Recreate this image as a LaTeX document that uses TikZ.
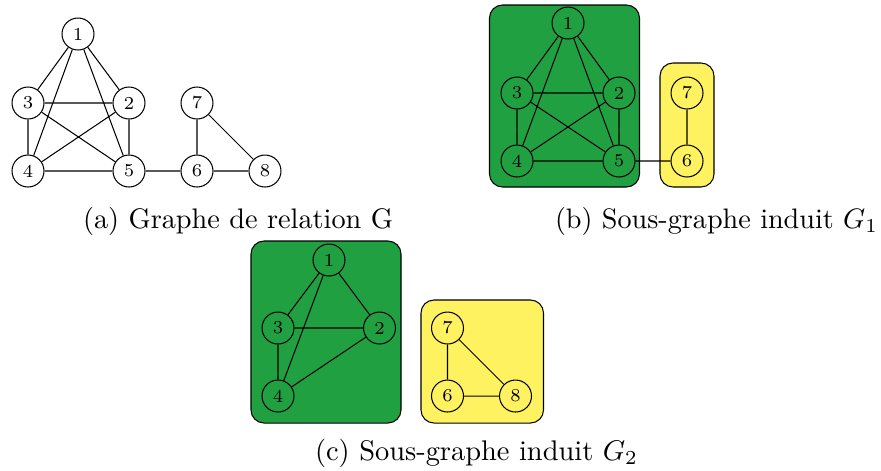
\documentclass[tikz,border=0pt]{standalone}
\usepackage{graphicx}
\definecolor{grn}{RGB}{33,160,66}
\definecolor{ylw}{RGB}{255,242,96}
\begin{document}
\begin{tikzpicture}[x=0.3846pt,y=-0.3846pt,
  vtx/.style={circle,draw,line width=0.4pt,minimum size=12.3pt,inner sep=0pt,font=\fontsize{7}{8}\selectfont},
  edge/.style={line width=0.4pt},
  grpbox/.style={draw,line width=0.4pt,rounded corners=5pt},
  captxt/.style={anchor=base,inner sep=0pt,font=\normalsize}]
\useasboundingbox (0,0) rectangle (881,470);
% (a)
\node[vtx] (a1) at (78,34) {1};
\node[vtx] (a3) at (28,103) {3};
\node[vtx] (a2) at (129,103) {2};
\node[vtx] (a4) at (28,171) {4};
\node[vtx] (a5) at (129,171) {5};
\node[vtx] (a7) at (197,103) {7};
\node[vtx] (a6) at (197,171) {6};
\node[vtx] (a8) at (265,171) {8};
\draw[edge] (a1)--(a3) (a1)--(a2) (a1)--(a4) (a1)--(a5)
  (a3)--(a2) (a3)--(a4) (a3)--(a5) (a2)--(a4) (a2)--(a5) (a4)--(a5)
  (a5)--(a6) (a7)--(a6) (a7)--(a8) (a6)--(a8);
\node[captxt] (capa) at (238,228) {\resizebox{119.2pt}{!}{(a) Graphe de relation G}};
% (b)
\draw[grpbox,fill=grn] (489.5,5) rectangle (639.5,187);
\draw[grpbox,fill=ylw] (660,63) rectangle (714,187);
\node[vtx] (b1) at (568,23) {1};
\node[vtx] (b3) at (517,93) {3};
\node[vtx] (b2) at (619,93) {2};
\node[vtx] (b4) at (517,161) {4};
\node[vtx] (b5) at (619,161) {5};
\node[vtx] (b7) at (687,93) {7};
\node[vtx] (b6) at (687,161) {6};
\draw[edge] (b1)--(b3) (b1)--(b2) (b1)--(b4) (b1)--(b5)
  (b3)--(b2) (b3)--(b4) (b3)--(b5) (b2)--(b4) (b2)--(b5) (b4)--(b5)
  (b5)--(b6) (b7)--(b6);
\node[captxt] (capb) at (716.5,228) {\resizebox{124.2pt}{!}{(b) Sous-graphe induit $G_1$}};
% (c)
\draw[grpbox,fill=grn] (251,241) rectangle (401,423);
\draw[grpbox,fill=ylw] (421,300) rectangle (543.5,423);
\node[vtx] (c1) at (329,260) {1};
\node[vtx] (c3) at (278,328) {3};
\node[vtx] (c2) at (379.5,328) {2};
\node[vtx] (c4) at (278,396) {4};
\node[vtx] (c7) at (447.5,328) {7};
\node[vtx] (c6) at (447.5,396) {6};
\node[vtx] (c8) at (515.5,396) {8};
\draw[edge] (c1)--(c3) (c1)--(c2) (c1)--(c4) (c3)--(c2) (c3)--(c4) (c2)--(c4)
  (c7)--(c6) (c7)--(c8) (c6)--(c8);
\node[captxt] (capc) at (476.5,460) {\resizebox{124.2pt}{!}{(c) Sous-graphe induit $G_2$}};
\end{tikzpicture}
\end{document}
